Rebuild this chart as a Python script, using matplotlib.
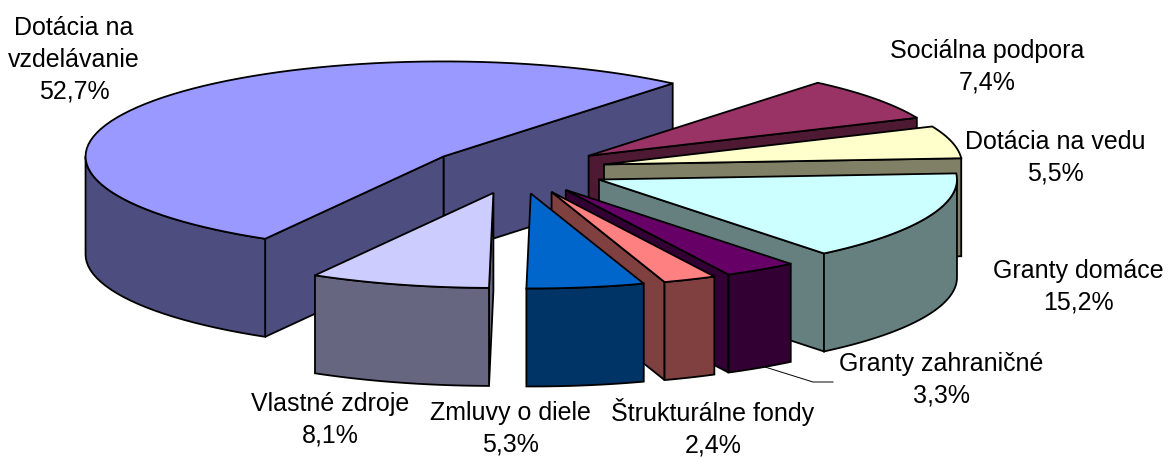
#!/usr/bin/env python3
import numpy as np
import matplotlib.pyplot as plt

plt.rcParams['font.family'] = ['Liberation Sans', 'DejaVu Sans']

labels = ['Dotácia na\nvzdelávanie', 'Vlastné zdroje', 'Zmluvy o diele', 'Štrukturálne fondy',
          'Granty zahraničné', 'Granty domáce', 'Dotácia na vedu', 'Sociálna podpora']
values = [52.7, 8.1, 5.3, 2.4, 3.3, 15.2, 5.5, 7.4]
top_colors = ['#9999FF', '#CCCCFF', '#0066CC', '#FF8080', '#660066', '#CCFFFF', '#FFFFCC', '#993366']
side_colors = ['#4D4D80', '#666680', '#003366', '#804040', '#330033', '#668080', '#808066', '#4D1933']
label_pos = [(74, 60), (330, 420), (510, 429), (713, 428), (941, 380), (1078, 287), (1055, 158), (987, 67)]

# pie geometry in pixels
cx, cy = 517, 170
rx, ry = 358, 95
depth = 98
explode = 0.25
start = 50.2

fig = plt.figure(figsize=(11.68, 4.57), dpi=100)
ax = fig.add_axes([0, 0, 1, 1])
ax.set_xlim(0, 1168)
ax.set_ylim(457, 0)
ax.axis('off')


def point(t, vx, vy):
    t = np.radians(t)
    return vx + rx * np.cos(t), vy - ry * np.sin(t)


def poly(x, y, color, z):
    ax.fill(x, y, facecolor=color, edgecolor='black', linewidth=1.3, joinstyle='miter', zorder=z)


spans = np.array(values) / sum(values) * 360
starts = start + np.concatenate([[0], np.cumsum(spans)[:-1]])

# back to front: the big slice, then round the right side to the front
order = [0, 7, 6, 5, 4, 3, 2, 1]
for z, i in enumerate(order):
    t0, t1 = starts[i], starts[i] + spans[i]
    mid = np.radians((t0 + t1) / 2)
    vx = cx + explode * rx * np.cos(mid)
    vy = cy - explode * ry * np.sin(mid)
    ts = np.linspace(t0, t1, 80)
    ax_, ay_ = point(ts, vx, vy)
    base = z * 10

    # radial side faces
    if np.cos(np.radians(t0)) > 0:
        poly([vx, ax_[0], ax_[0], vx], [vy, ay_[0], ay_[0] + depth, vy + depth], side_colors[i], base)
    if np.cos(np.radians(t1)) < 0:
        poly([vx, ax_[-1], ax_[-1], vx], [vy, ay_[-1], ay_[-1] + depth, vy + depth], side_colors[i], base)

    # outer wall, only the part facing the viewer
    front = np.sin(np.radians(ts)) < 0
    if front.any():
        wx, wy = ax_[front], ay_[front]
        poly(np.r_[wx, wx[::-1]], np.r_[wy, wy[::-1] + depth], side_colors[i], base + 1)

    poly(np.r_[vx, ax_], np.r_[vy, ay_], top_colors[i], base + 2)

for name, val, (x, y) in zip(labels, values, label_pos):
    txt = name + '\n' + f'{val:.1f}'.replace('.', ',') + '%'
    ax.text(x, y, txt, ha='center', va='center', fontsize=18, color='black', linespacing=1.4, zorder=200)

# leader line for Granty zahranicne
ax.plot([765, 813, 833], [367, 382, 382], color='black', linewidth=0.7, zorder=150)

fig.savefig('out.png', dpi=100)
